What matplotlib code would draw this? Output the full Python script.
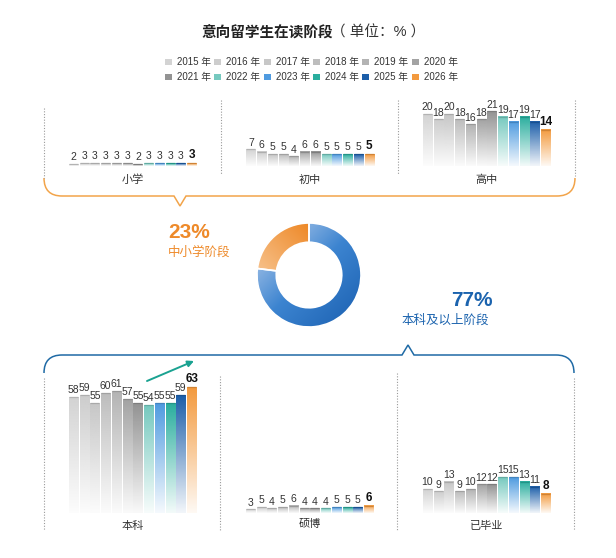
import numpy as np
import matplotlib
matplotlib.use('Agg')
import matplotlib.pyplot as plt
from matplotlib.colors import to_rgb, LinearSegmentedColormap
from matplotlib.path import Path
from matplotlib.patches import PathPatch, Rectangle

# 数字用 Liberation Sans，中文回落到 Noto Sans CJK SC
plt.rcParams['font.family'] = ['Liberation Sans', 'Noto Sans CJK SC', 'DejaVu Sans']

# 数据
years = ['2015 年', '2016 年', '2017 年', '2018 年', '2019 年', '2020 年',
         '2021 年', '2022 年', '2023 年', '2024 年', '2025 年', '2026 年']
year_colors = ['#d3d3d3', '#cdcdcd', '#c7c7c7', '#bdbdbd', '#b3b3b3', '#a3a3a3',
               '#939393', '#76c9bf', '#4f9be0', '#2aae9e', '#1c5ea9', '#f39a3e']

primary = [2, 3, 3, 3, 3, 3, 2, 3, 3, 3, 3, 3]
junior = [7, 6, 5, 5, 4, 6, 6, 5, 5, 5, 5, 5]
senior = [20, 18, 20, 18, 16, 18, 21, 19, 17, 19, 17, 14]
undergrad = [58, 59, 55, 60, 61, 57, 55, 54, 55, 55, 59, 63]
postgrad = [3, 5, 4, 5, 6, 4, 4, 4, 5, 5, 5, 6]
graduated = [10, 9, 13, 9, 10, 12, 12, 15, 15, 13, 11, 8]

share_labels = ['中小学阶段', '本科及以上阶段']
shares = [23, 77]

W, H = 616, 558
fig = plt.figure(figsize=(W / 100, H / 100), dpi=100)
fig.patch.set_facecolor('white')

# 像素坐标的覆盖层
ov = fig.add_axes([0, 0, 1, 1])
ov.set_xlim(0, W)
ov.set_ylim(H, 0)
ov.axis('off')


def px_axes(x, y_bottom, w, h):
    return fig.add_axes([x / W, (H - y_bottom) / H, w / W, h / H])


def grad_bar(ax, x, h, color, w=0.86):
    rgb = to_rgb(color)
    n = 64
    img = np.zeros((n, 1, 4))
    img[:, :, :3] = rgb
    img[:, 0, 3] = np.linspace(0.06, 1, n)
    ax.imshow(img, extent=(x - w / 2, x + w / 2, 0, h), origin='lower',
              aspect='auto', interpolation='bilinear')
    dark = tuple(c * 0.85 for c in rgb)
    ax.plot([x - w / 2, x + w / 2], [h, h], color=dark, lw=0.9,
            solid_capstyle='butt')


# 标题
ov.text(333, 33, '意向留学生在读阶段', ha='right', va='center', fontsize=10.5,
        fontweight='bold', color='#222222')
ov.text(331, 33, '（ 单位：% ）', ha='left', va='center', fontsize=10.5,
        color='#333333')

# 图例
for i, (yr, c) in enumerate(zip(years, year_colors)):
    r, k = divmod(i, 6)
    lx = 165 + k * 49.3
    ly = 62 + r * 15
    ov.add_patch(Rectangle((lx, ly - 3), 7, 6, color=c, lw=0))
    ov.text(lx + 12, ly, yr, ha='left', va='center', fontsize=7,
            color='#333333')

# 括号框线
def bracket(y_line, y_end, x0, x1, notch_x, notch_dir, color):
    r = 18
    verts = [(x0, y_end), (x0, y_line), (x0 + r, y_line),
             (notch_x - 6, y_line), (notch_x, y_line + notch_dir * 10),
             (notch_x + 6, y_line), (x1 - r, y_line), (x1, y_line), (x1, y_end)]
    codes = [Path.MOVETO, Path.CURVE3, Path.CURVE3, Path.LINETO, Path.LINETO,
             Path.LINETO, Path.LINETO, Path.CURVE3, Path.CURVE3]
    ov.add_patch(PathPatch(Path(verts, codes), fill=False, edgecolor=color,
                           lw=1.1))


bracket(196, 178, 44, 575, 180, 1, '#f2a44a')
bracket(355, 373, 44, 574, 408, -1, '#1f6aa5')

dot = dict(color='#9a9a9a', lw=0.8, ls=(0, (1, 1.5)))
for x, y0, y1 in [(44, 108, 178), (221, 100, 175), (398, 100, 174),
                  (575, 100, 176), (44, 378, 530), (220, 376, 530),
                  (397, 373, 530), (574, 378, 530)]:
    ov.plot([x, x], [y0, y1], **dot)

# 六个柱状面板
panels = [
    ('小学', primary, 68, 166, 1.0, 180),
    ('初中', junior, 245.5, 166, 2.4, 180),
    ('高中', senior, 422, 166, 2.6, 180),
    ('本科', undergrad, 68, 513, 2.0, 526),
    ('硕博', postgrad, 245, 513, 1.2, 524),
    ('已毕业', graduated, 422, 513, 2.4, 526),
]
pw, ph = 129, 150
for name, vals, x0, yb, ppu, ly in panels:
    ax = px_axes(x0, yb, pw, ph)
    ax.axis('off')
    for i, v in enumerate(vals):
        grad_bar(ax, i, v, year_colors[i])
        last = i == len(vals) - 1
        ax.annotate(str(v), (i, v), xytext=(0, 1.2), textcoords='offset points',
                    ha='center', va='bottom',
                    fontsize=8.5 if last else 7.5,
                    fontweight='bold' if last else 'normal',
                    color='#111111' if last else '#333333',
                    annotation_clip=False)
    ax.set_xlim(-0.5, len(vals) - 0.5)
    ax.set_ylim(0, ph / ppu)
    ov.text(x0 + pw / 2, ly, name, ha='center', va='center', fontsize=8,
            color='#333333')

# 本科增长箭头
ov.annotate('', xy=(194, 361), xytext=(147, 381),
            arrowprops=dict(arrowstyle='-|>', color='#1aa291', lw=1.4,
                            mutation_scale=9, shrinkA=0, shrinkB=0))

# 环形图
dax = px_axes(309 - 52, 275 + 52, 104, 104)
wedges, _ = dax.pie(shares, startangle=90, counterclock=True,
                    wedgeprops=dict(width=0.37, edgecolor='white', lw=1.2,
                                    facecolor='none'))
gx, gy = np.meshgrid(np.linspace(-1, 1, 200), np.linspace(-1, 1, 200))
orange_cmap = LinearSegmentedColormap.from_list('o', ['#ee8826', '#f7c490'])
blue_cmap = LinearSegmentedColormap.from_list('b', ['#c8d8f0', '#3c84d0',
                                                    '#1a5fb0'])
t_orange = np.clip((-gx - gy + 1) / 2, 0, 1)
t_blue = np.clip((gx - gy + 2) / 4, 0, 1)
for wdg, cmap, t in [(wedges[0], orange_cmap, t_orange),
                     (wedges[1], blue_cmap, t_blue)]:
    im = dax.imshow(t, cmap=cmap, vmin=0, vmax=1, extent=(-1, 1, -1, 1),
                    origin='lower', interpolation='bilinear')
    im.set_clip_path(wdg)
    wdg.set_zorder(3)
dax.set_xlim(-1, 1)
dax.set_ylim(-1, 1)
dax.set_aspect('equal')
dax.axis('off')

ov.text(168, 233, f'{shares[0]}%', ha='left', va='center', fontsize=15,
        fontweight='bold', color='#ee8a2a')
ov.text(168, 253, share_labels[0], ha='left', va='center', fontsize=9,
        color='#ee8a2a')
ov.text(493, 300, f'{shares[1]}%', ha='right', va='center', fontsize=15,
        fontweight='bold', color='#1b63ae')
ov.text(402, 321, share_labels[1], ha='left', va='center', fontsize=9,
        color='#1b63ae')

fig.savefig('out.png', dpi=100)
